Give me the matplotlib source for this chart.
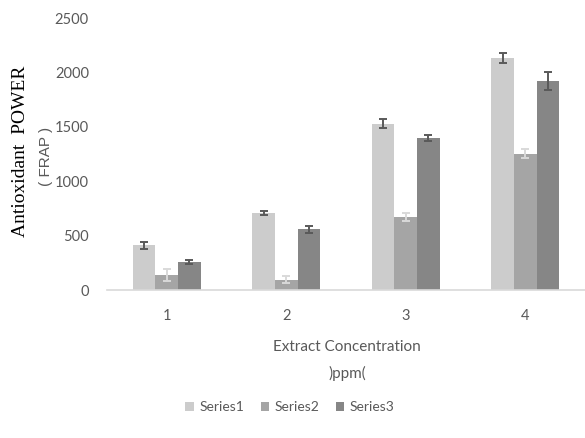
import numpy as np
from matplotlib import pyplot as plt

# data
categories = ['1', '2', '3', '4']
series_names = ['Series1', 'Series2', 'Series3']
series1 = [410, 707, 1528, 2132]
series2 = [135, 95, 670, 1252]
series3 = [258, 558, 1398, 1922]
err1 = [30, 15, 40, 45]
err2 = [55, 30, 40, 40]
err3 = [20, 30, 30, 85]

values = [series1, series2, series3]
errors = [err1, err2, err3]
colors = ['#cccccc', '#a5a5a5', '#868686']
ecolors = ['#595959', '#d9d9d9', '#595959']
txt = '#595959'

fig = plt.figure(figsize=(5.85, 4.38), dpi=100)
ax = fig.add_axes([107/585, 1-290/438, 478/585, 272/438])

x = np.arange(1, len(categories)+1)
w = 0.19
for k in range(3):
    ax.bar(x + (k-1)*w, values[k], w, color=colors[k], label=series_names[k],
           yerr=errors[k], ecolor=ecolors[k],
           error_kw=dict(elinewidth=1.4, capsize=3, capthick=1.4))

ax.set_xlim(0.5, 4.5)
ax.set_ylim(0, 2500)
ax.set_yticks([0, 500, 1000, 1500, 2000, 2500])
ax.set_xticks(x)
ax.set_xticklabels(categories)
for s in ['top', 'right', 'left']:
    ax.spines[s].set_visible(False)
ax.spines['bottom'].set_color('#d9d9d9')
ax.spines['bottom'].set_linewidth(1.2)
ax.tick_params(length=0, colors=txt, labelsize=10.5)
ax.tick_params(axis='y', pad=13)
ax.tick_params(axis='x', pad=14)
for lab in ax.get_xticklabels() + ax.get_yticklabels():
    lab.set_family('Lato')

fig.text(21/585, 1-151/438, 'Antioxidant  POWER', rotation=90, ha='center', va='center',
         family='Liberation Serif', fontsize=14, color='black')
fig.text(46/585, 1-156/438, '( FRAP )', rotation=90, ha='center', va='center',
         family='Liberation Sans', fontsize=11, color=txt)
fig.text(347/585, 1-347/438, 'Extract Concentration', ha='center', va='center',
         family='Lato', fontsize=11, color=txt)
fig.text(347/585, 1-373/438, ')ppm(', ha='center', va='center',
         family='Lato', fontsize=11, color=txt)

leg = fig.legend(loc='center', bbox_to_anchor=(290/585, 1-407/438), ncol=3, frameon=False,
                 handlelength=0.6, handleheight=0.6, handletextpad=0.4, columnspacing=1.2,
                 prop={'family': 'Lato', 'size': 10})
for t in leg.get_texts():
    t.set_color(txt)

fig.savefig('out.png', dpi=100)
